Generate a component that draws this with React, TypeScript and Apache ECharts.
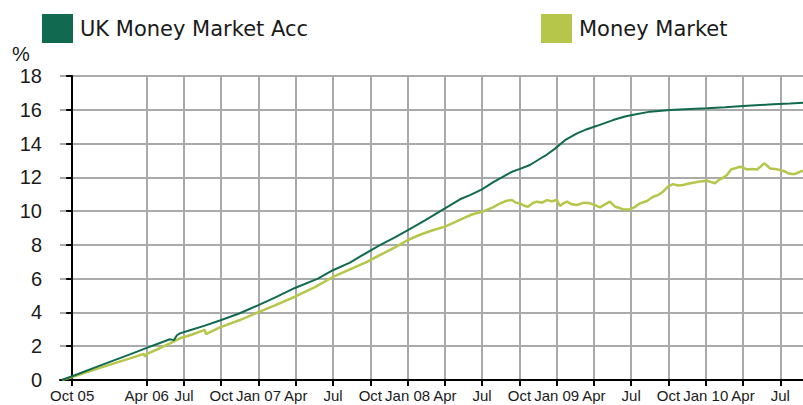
import React, { useEffect, useRef } from "react";
import * as echarts from "echarts";

// Series names
const seriesNames = ["UK Money Market Acc", "Money Market"];

// x values are months since 1 Oct 2005
const accMonths = [
  -0.83, 0.0, 2.23, 4.65, 6.0, 7.06, 7.87, 8.19, 8.43, 8.67, 9.48, 10.68, 11.89, 13.5, 14.95,
  16.32, 17.93, 19.78, 20.99, 22.36, 23.16, 24.77, 25.98, 27.03, 28.4, 30.01, 31.22, 32.02,
  32.99, 33.87, 34.84, 35.4, 36.05, 36.85, 37.66, 38.22, 38.87, 39.67, 40.64, 41.44, 42.25,
  43.54, 44.5, 45.07, 46.52, 48.13, 49.74, 51.11, 52.56, 54.01, 55.38, 56.43, 57.79, 58.83,
];
const accValues = [
  0, 0.22, 0.85, 1.52, 1.9, 2.19, 2.41, 2.36, 2.65, 2.76, 2.95, 3.22, 3.52, 3.95, 4.42,
  4.88, 5.45, 6.0, 6.5, 6.95, 7.3, 7.98, 8.45, 8.88, 9.45, 10.16, 10.7, 10.95,
  11.29, 11.7, 12.1, 12.33, 12.5, 12.73, 13.1, 13.35, 13.7, 14.2, 14.6, 14.85, 15.05,
  15.39, 15.6, 15.69, 15.89, 15.99, 16.05, 16.09, 16.15, 16.22, 16.28, 16.32, 16.37, 16.42,
];

const mmMonths = [
  -0.83, 0.0, 2.23, 4.65, 5.77, 5.85, 6.01, 7.06, 7.87, 8.67, 9.48, 10.68, 10.77, 11.89, 13.5,
  14.95, 16.32, 17.93, 19.54, 20.99, 22.36, 23.73, 24.77, 25.98, 27.03, 27.99, 28.96, 30.01,
  30.81, 31.46, 32.18, 32.99, 33.87, 34.44, 35.0, 35.4, 35.72, 36.05, 36.45, 36.69, 37.09,
  37.41, 37.82, 38.22, 38.62, 39.02, 39.27, 39.51, 39.83, 40.23, 40.64, 41.2, 41.68, 42.09,
  42.49, 42.89, 43.29, 43.7, 44.1, 44.34, 44.9, 45.31, 45.71, 46.27, 46.76, 47.16, 47.56,
  47.96, 48.36, 48.77, 49.17, 49.57, 49.97, 50.54, 51.11, 51.43, 51.75, 52.07, 52.31, 52.71,
  53.04, 53.44, 53.76, 54.08, 54.32, 54.73, 55.13, 55.45, 55.69, 55.93, 56.17, 56.57, 56.98,
  57.38, 57.62, 57.95, 58.19, 58.5, 58.83,
];
const mmValues = [
  0, 0.18, 0.72, 1.28, 1.55, 1.38, 1.55, 1.88, 2.17, 2.47, 2.65, 2.97, 2.72, 3.12, 3.55,
  4.0, 4.42, 4.93, 5.5, 6.1, 6.55, 7.0, 7.4, 7.85, 8.29, 8.6, 8.85, 9.08,
  9.35, 9.57, 9.8, 9.96, 10.22, 10.45, 10.62, 10.66, 10.5, 10.46, 10.3, 10.26, 10.48,
  10.56, 10.5, 10.65, 10.58, 10.66, 10.3, 10.45, 10.56, 10.4, 10.36, 10.5, 10.46, 10.35,
  10.22, 10.4, 10.56, 10.26, 10.18, 10.1, 10.1, 10.25, 10.46, 10.6, 10.85, 10.95, 11.15,
  11.45, 11.6, 11.52, 11.55, 11.62, 11.68, 11.75, 11.8, 11.72, 11.65, 11.85, 11.94, 12.14,
  12.47, 12.55, 12.63, 12.55, 12.47, 12.5, 12.47, 12.65, 12.83, 12.7, 12.53, 12.5, 12.43,
  12.35, 12.24, 12.2, 12.2, 12.3, 12.39,
];

// x-axis ticks (months since Oct 2005) and their labels
const tickMonths = [0, 6, 9, 12, 15, 18, 21, 24, 27, 30, 33, 36, 39, 42, 45, 48, 51, 54, 57];
const tickLabels = [
  "Oct 05", "Apr 06", "Jul", "Oct", "Jan 07", "Apr", "Jul", "Oct", "Jan 08", "Apr",
  "Jul", "Oct", "Jan 09", "Apr", "Jul", "Oct", "Jan 10", "Apr", "Jul",
];

const colors = ["#116a4f", "#b6c64a"];

export default function App() {
  const ref = useRef<HTMLDivElement>(null);
  useEffect(() => {
    const chart = echarts.init(ref.current!, null, { renderer: "svg" });
    const pair = (xs: number[], ys: number[]) => xs.map((x, i) => [x, ys[i]]);
    const textColor = "#1a1a1a";
    chart.setOption({
      animation: false,
      grid: { left: 60, right: 0, top: 76, bottom: 25, containLabel: false },
      legend: [
        {
          data: [seriesNames[0]],
          left: 42,
          top: 14,
          icon: "rect",
          itemWidth: 31,
          itemHeight: 29,
          padding: 0,
          textStyle: { fontSize: 21, fontFamily: "DejaVu Sans", color: textColor, padding: [0, 0, 0, 2] },
        },
        {
          data: [seriesNames[1]],
          left: 541,
          top: 14,
          icon: "rect",
          itemWidth: 31,
          itemHeight: 29,
          padding: 0,
          textStyle: { fontSize: 21, fontFamily: "DejaVu Sans", color: textColor, padding: [0, 0, 0, 2] },
        },
      ],
      graphic: [
        {
          type: "text",
          left: 12,
          top: 44,
          style: { text: "%", fontSize: 20, fontFamily: "Liberation Sans", fill: textColor },
        },
      ],
      xAxis: {
        type: "value",
        min: -0.98,
        max: 58.83,
        axisLine: { show: true, lineStyle: { color: "#000", width: 2 } },
        axisTick: {
          show: true,
          customValues: tickMonths,
          length: 6,
          lineStyle: { color: "#000", width: 2 },
        },
        axisLabel: {
          customValues: tickMonths,
          fontSize: 15,
          fontFamily: "Liberation Sans",
          color: textColor,
          margin: 8,
          formatter: (v: number) => {
            const i = tickMonths.findIndex((t) => Math.abs(t - v) < 0.01);
            return i >= 0 ? tickLabels[i] : "";
          },
        },
        splitLine: { show: true, lineStyle: { color: "#aaaaaa", width: 2 } },
      },
      yAxis: {
        type: "value",
        min: 0,
        max: 18,
        interval: 2,
        axisLine: { show: true, lineStyle: { color: "#000", width: 2 } },
        axisTick: { show: true, length: 6, lineStyle: { color: "#000", width: 2 } },
        axisLabel: { fontSize: 20, fontFamily: "Liberation Sans", color: textColor, margin: 18 },
        splitLine: { show: true, lineStyle: { color: "#aaaaaa", width: 2 } },
      },
      series: [
        {
          name: seriesNames[1],
          type: "line",
          data: pair(mmMonths, mmValues),
          symbol: "none",
          color: colors[1],
          lineStyle: { color: colors[1], width: 2.5 },
        },
        {
          name: seriesNames[0],
          type: "line",
          data: pair(accMonths, accValues),
          symbol: "none",
          color: colors[0],
          lineStyle: { color: colors[0], width: 2 },
        },
      ],
    });
    return () => chart.dispose();
  }, []);
  return <div ref={ref} style={{ position: "absolute", left: 0, top: 0, width: 803, height: 405 }} />;
}
